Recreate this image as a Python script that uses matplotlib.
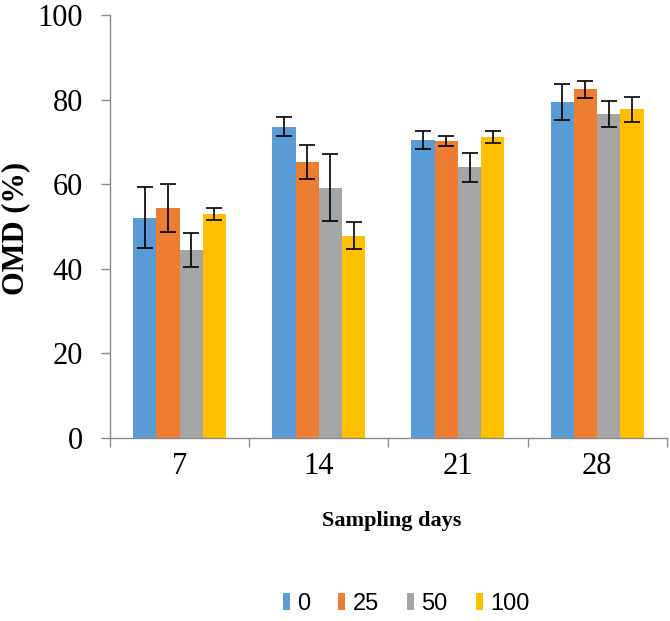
import matplotlib
matplotlib.use("Agg")
import matplotlib.pyplot as plt
import numpy as np

categories = ["7", "14", "21", "28"]
series_names = ["0", "25", "50", "100"]
vals_0 = [52.1, 73.6, 70.4, 79.4]
vals_25 = [54.4, 65.2, 70.3, 82.4]
vals_50 = [44.4, 59.2, 64.0, 76.6]
vals_100 = [53.0, 47.8, 71.2, 77.7]
err_0 = [7.3, 2.3, 2.1, 4.2]
err_25 = [5.6, 4.0, 1.2, 2.0]
err_50 = [4.0, 8.0, 3.4, 3.1]
err_100 = [1.4, 3.2, 1.4, 3.0]
colors = ["#5B9BD5", "#ED7D31", "#A5A5A5", "#FFC000"]

values = [vals_0, vals_25, vals_50, vals_100]
errors = [err_0, err_25, err_50, err_100]

fig = plt.figure(figsize=(6.70, 6.21), dpi=100)
ax = fig.add_axes([110/670, 1 - 438/621, (666.7 - 110)/670, (438 - 15)/621])

x = np.arange(len(categories))
w = 0.167
for i, (v, e, c, n) in enumerate(zip(values, errors, colors, series_names)):
    ax.bar(x + (i - 1.5) * w, v, width=w, color=c, label=n, zorder=2,
           yerr=e, error_kw=dict(ecolor="black", elinewidth=1.2, capsize=5.5, capthick=1.2))

ax.set_xlim(-0.5, 3.5)
ax.set_ylim(0, 100)
ax.set_yticks([0, 20, 40, 60, 80, 100])
ax.set_yticklabels(["0", "20", "40", "60", "80", "100"], fontfamily="Liberation Serif", fontsize=22)
ax.tick_params(axis="y", direction="out", length=6.5, width=1, color="#8c8c8c", pad=13)

ax.set_xticks(np.arange(-0.5, 4.0, 1.0))
ax.set_xticklabels([""] * 5)
ax.tick_params(axis="x", which="major", direction="out", length=6.5, width=1, color="#8c8c8c")
ax.set_xticks(x, minor=True)
ax.set_xticklabels(categories, minor=True, fontfamily="Liberation Serif", fontsize=22)
ax.tick_params(axis="x", which="minor", length=0, pad=10)

for s in ["top", "right"]:
    ax.spines[s].set_visible(False)
for s in ["left", "bottom"]:
    ax.spines[s].set_color("#8c8c8c")
    ax.spines[s].set_linewidth(1)

fig.text(16/670, 1 - 228/621, "OMD (%)", rotation=90, ha="center", va="center",
         fontfamily="Liberation Serif", fontweight="bold", fontsize=22)
fig.text(392/670, 1 - 521/621, "Sampling days", ha="center", va="center",
         fontfamily="Liberation Serif", fontweight="bold", fontsize=16)

leg = fig.legend(loc="center", bbox_to_anchor=(406/670, 1 - 604/621), ncol=4, frameon=False,
                 prop=dict(family="Liberation Sans", size=17), handlelength=0.3, handleheight=0.72,
                 handletextpad=0.3, columnspacing=1.2)

fig.savefig("out.png", dpi=100)
